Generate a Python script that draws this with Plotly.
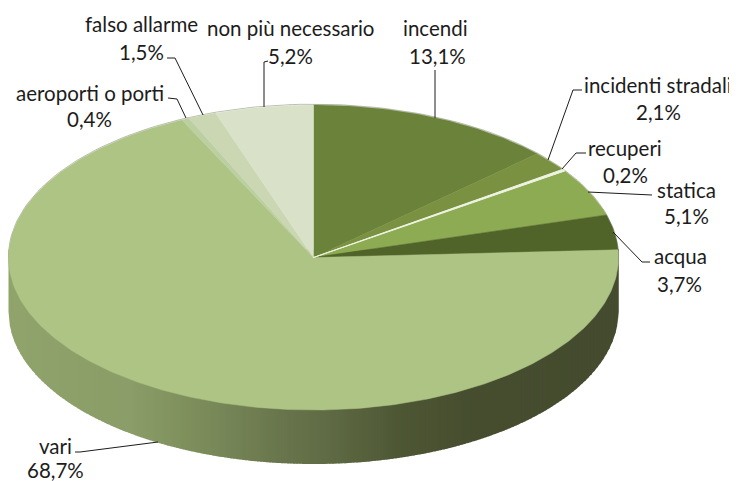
import numpy as np
import plotly.graph_objects as go

# ---- data ----
categories = ["incendi", "incidenti stradali", "recuperi", "statica", "acqua",
              "vari", "aeroporti o porti", "falso allarme", "non più necessario"]
values = [13.1, 2.1, 0.2, 5.1, 3.7, 68.7, 0.4, 1.5, 5.2]

# ---- style ----
colors = ["#6b823a", "#7a9142", "#eef3e2", "#8dab52", "#506328",
          "#adc484", "#bccfa0", "#cad7b2", "#d9e2c9"]
CX, CY, RX, RY, DEPTH = 313.5, 257.5, 305, 152.5, 54
PAGE_OFFSET = 8  # the page body margin
wall_x = [8, 130, 200, 270, 330, 400, 470, 620]
wall_rgb = [(144, 164, 108), (139, 157, 104), (124, 141, 91), (108, 121, 79),
            (95, 107, 68), (78, 87, 52), (71, 78, 48), (68, 75, 46)]
FONT = dict(family="Lato, Carlito, sans-serif", size=20.5, color="#1c1c1c")

# label centres: (name x, name y, value x, value y)
label_pos = [(435, 28, 437, 56), (658, 85, 658, 112), (625, 148, 625, 175),
             (686, 190, 686, 216), (680, 256, 679, 284), (55, 446, 55, 470),
             (90, 93, 89, 119), (141, 24, 141, 52), (290, 28, 290, 56)]
leaders = [[(435, 70), (435, 118)],
           [(548, 160), (573, 90), (582, 90)],
           [(562, 169), (576, 153), (586, 153)],
           [(588, 192), (652, 195)],
           [(613, 232), (642, 262), (650, 262)],
           [(158, 442), (80, 452), (75, 452)],
           [(186, 118), (177, 99), (168, 98)],
           [(203, 115), (175, 58), (167, 58)],
           [(264, 107), (264, 62), (268, 61)]]


def rim(theta, dy=0.0):
    return CX + RX * np.sin(theta), CY - RY * np.cos(theta) + dy


def lower(x):
    return CY + RY * np.sqrt(np.clip(1 - ((x - CX) / RX) ** 2, 0, 1)) + DEPTH


fig = go.Figure()


def poly(x, y, color, lw=0.6):
    fig.add_trace(go.Scatter(x=list(x), y=list(y), mode="lines", fill="toself",
                             fillcolor=color, line=dict(color=color, width=lw),
                             hoverinfo="skip", showlegend=False))


# back rim (thin grey edge)
t = np.radians(np.linspace(-95, 95, 120))
x, y = rim(t, -0.8)
fig.add_trace(go.Scatter(x=x, y=y, mode="lines", line=dict(color="#b9bdb2", width=1),
                         hoverinfo="skip", showlegend=False))

# side wall: vertical strips, later ones overlap earlier ones
cols = np.arange(CX - RX, CX + RX, 3.0)
for xa in cols:
    xb = min(xa + 4.0, CX + RX)
    mid = xa + 1.5
    rgb = [int(np.interp(mid, wall_x, [c[i] for c in wall_rgb])) for i in range(3)]
    xs = np.linspace(xa, xb, 4)
    poly(np.r_[xa, xs, xb, xa], np.r_[CY - 8, lower(xs), CY - 8, CY - 8], "rgb(%d,%d,%d)" % tuple(rgb), 0)

# top face, slices from 12 o'clock clockwise
cum = np.concatenate([[0], np.cumsum(values)]) / sum(values) * 2 * np.pi
order = [i for i in range(len(values)) if i != 2] + [2]
for i in order:
    th = np.linspace(cum[i], cum[i + 1], max(3, int(values[i] * 5)))
    xs, ys = rim(th)
    poly(np.r_[CX, xs, CX], np.r_[CY, ys, CY], colors[i], 0.5 if i != 2 else 1.0)

# leader lines
shapes = []
for pts in leaders:
    path = "M " + " L ".join(f"{px},{py}" for px, py in pts)
    shapes.append(dict(type="path", path=path, xref="x", yref="y",
                       line=dict(color="#1c1c1c", width=1)))

# labels
annotations = []
for name, val, (nx, ny, vx, vy) in zip(categories, values, label_pos):
    annotations.append(dict(x=nx, y=ny, text=name, showarrow=False, font=FONT,
                            xanchor="center", yanchor="middle", xref="x", yref="y"))
    annotations.append(dict(x=vx, y=vy, text=f"{val:.1f}%".replace(".", ","), showarrow=False, font=FONT,
                            xanchor="center", yanchor="middle", xref="x", yref="y"))

fig.update_layout(
    width=737 - PAGE_OFFSET, height=481 - PAGE_OFFSET, margin=dict(l=0, r=0, t=0, b=0),
    paper_bgcolor="white", plot_bgcolor="white", showlegend=False,
    xaxis=dict(range=[PAGE_OFFSET, 737], visible=False, fixedrange=True),
    yaxis=dict(range=[481, PAGE_OFFSET], visible=False, fixedrange=True),
    shapes=shapes, annotations=annotations,
)
fig.write_html("out.html", config=dict(displayModeBar=False))
